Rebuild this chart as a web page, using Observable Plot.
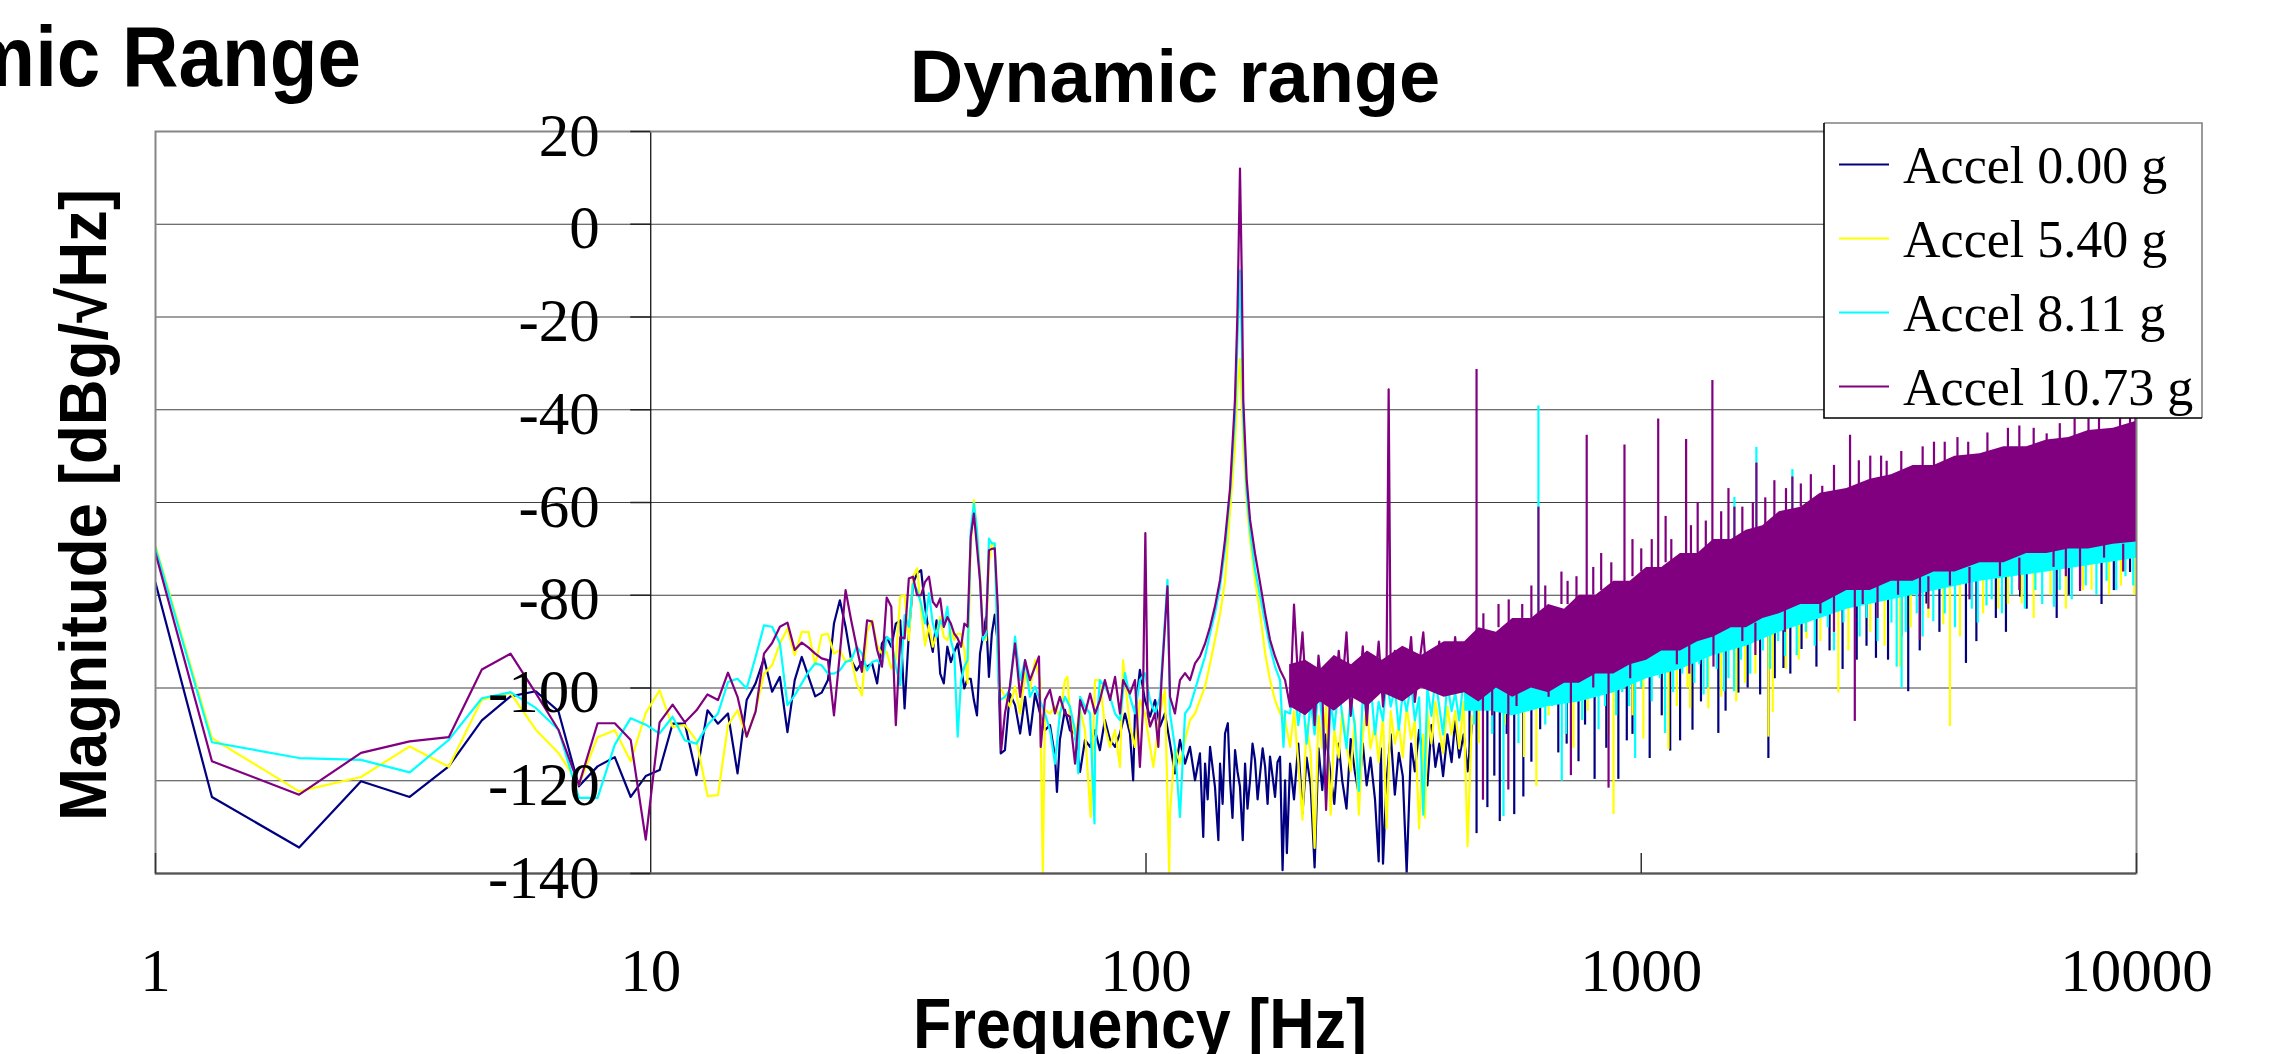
<!DOCTYPE html>
<html>
<head>
<meta charset="utf-8">
<script src="https://cdn.jsdelivr.net/npm/d3@7"></script>
<script src="https://cdn.jsdelivr.net/npm/@observablehq/plot@0.6"></script>
<style>
  html, body { margin: 0; padding: 0; background: #fff; }
  body { width: 2279px; height: 1054px; position: relative; overflow: hidden; }
  #chart svg, #overlay { position: absolute; left: 0; top: 0; }
</style>
</head>
<body>
<div id="chart"></div>
<script>
// ---------------- data ----------------
const seriesNames = ["Accel 0.00 g", "Accel 5.40 g", "Accel 8.11 g", "Accel 10.73 g"];
const seriesColors = ["#000080", "#ffff00", "#00ffff", "#800080"];

const xTicks = [1, 10, 100, 1000, 10000];
const xTickMarks = [1, 100, 1000, 10000];
const yTicks = [20, 0, -20, -40, -60, -80, -100, -120, -140];
const yAxisAt = 10;          // frequency where the magnitude axis crosses
const xDomain = [1, 10000];
const yDomain = [-140, 20];

// low-frequency bins (Hz)
const freqLow = [1, 1.30, 1.95, 2.60, 3.26, 3.91, 4.56, 5.21, 5.86, 6.51, 7.16, 7.81, 8.46, 9.11, 9.77,
  10.42, 11.07, 11.72, 12.37, 13.02, 13.67, 14.32, 14.97, 15.62, 16.28, 16.93, 17.58, 18.23, 18.88, 19.53,
  20.18, 20.83, 21.48, 22.13, 22.79, 23.44, 24.09, 24.74, 25.39, 26.04, 26.69, 27.34, 27.99, 28.65, 29.30,
  29.95, 30.60, 31.25, 31.90, 32.55, 33.20, 33.85, 34.50, 35.15, 35.80, 36.46, 37.11, 37.76, 38.41, 39.06,
  39.71, 40.36, 41.01, 41.66, 42.32, 42.97, 43.62, 44.27, 44.92, 45.57, 46.22, 46.87, 47.53, 48.18, 48.83];

const navyLow = [-77.3, -123.5, -134.4, -120.1, -123.5, -116.9, -107, -101.8, -100.7, -105, -121.2, -116.9, -114.9, -123.5, -119,
  -117.7, -107.7, -107.7, -118.8, -104.8, -107.7, -105.5, -118.4, -102.6, -99, -93.6, -100.8, -97.6, -109.5, -98.3,
  -93.3, -97.6, -101.8, -101, -98.3, -86.1, -81.1, -86.8, -94, -96.2, -94.4, -95.4, -94.7, -99, -90.4,
  -89, -91.1, -86.1, -85.4, -104.4, -88.3, -77.5, -75.3, -74.6, -82.5, -88.3, -92.2, -85.4, -96.9, -99,
  -91.1, -94.4, -92.2, -90.4, -95.4, -100.1, -98, -98, -102.6, -105.9, -92.6, -88.6, -84.7, -97.6, -88.3];
const yellowLow = [-69.4, -110.8, -122.3, -119.2, -112.6, -117, -102.5, -101.1, -109, -114, -120.9, -110.6, -109.1, -115.8, -105.4,
  -100.5, -108.4, -108, -111.3, -123.3, -123.1, -108, -104.8, -110.5, -105, -96.9, -95.1, -90.4, -87.2, -92.9,
  -87.9, -87.9, -95.1, -88.6, -88.3, -92.6, -91.8, -94.4, -93.6, -99, -101.6, -87.9, -85.4, -90.8, -92.6,
  -92.2, -95.8, -94, -80.3, -80, -89.7, -76, -74.2, -83.2, -90.8, -86.5, -91.1, -88.3, -84.7, -89,
  -89.7, -87.2, -89.7, -88.3, -88.3, -91.8, -99, -69.6, -59.5, -66, -75.3, -89, -89.7, -73.2, -68.8];
const cyanLow = [-69.8, -111.7, -115.1, -115.5, -118.2, -111.2, -102.2, -100.9, -104.3, -109, -123.7, -123.7, -112.2, -106.5, -107.9,
  -109.8, -106.2, -111.3, -112, -108, -105.5, -98.7, -98, -100.1, -93.3, -86.5, -86.8, -90.4, -103.7, -101.6,
  -99, -96.5, -94.7, -95.1, -96.9, -96.9, -96.2, -94.4, -94, -91.1, -92.6, -96.2, -94.4, -94, -95.1,
  -89, -89.7, -95.4, -99.4, -84.3, -86.8, -77.5, -78.9, -81.8, -86.1, -79.6, -86.1, -89, -85.4, -86.8,
  -82.5, -89.7, -92.6, -110.5, -98.3, -95.4, -94, -66, -60.2, -66, -76.8, -89.7, -88.6, -67.8, -68.8];
const purpleLow = [-70.9, -115.8, -123, -114, -111.5, -110.6, -96, -92.6, -101.1, -109, -120.9, -107.6, -107.6, -111.2, -132.7,
  -107.4, -103.6, -107.4, -104.8, -101.4, -102.6, -96.7, -101.9, -110.5, -105.1, -92.6, -90.3, -86.8, -85.9, -91.8,
  -90.2, -91.3, -92.6, -93.6, -94, -105.9, -92.6, -78.9, -85.4, -91.1, -96.5, -85.4, -85.7, -91.8, -95.4,
  -80.5, -82.5, -108, -89, -89.3, -76.4, -76, -80, -80, -77.1, -76, -81.4, -82.5, -80.7, -86.8,
  -84.7, -86.1, -88.3, -89.3, -91.1, -86.1, -86.8, -67.4, -62.4, -69.6, -76.8, -88.6, -87.2, -70.3, -70];

// 49 - 455 Hz: [frequency, dB]
const navyMid = [[49.5,-84.2],[50.2,-90.4],[50.9,-114.1],[51.9,-113.4],[53.1,-101.2],[54.4,-103.7],[55.7,-109.8],[57.0,-101.9],
  [58.3,-110.1],[59.7,-101.2],[61.1,-105.5],[62.5,-109.1],[64.0,-108],[65.5,-114.8],[66.1,-122.4],[67.0,-111.2],[68.6,-104.7],
  [70.2,-109.1],[71.9,-109.8],[73.6,-118.1],[75.3,-111.2],[77.1,-112.7],[78.9,-109.1],[80.7,-113.4],[82.6,-106.9],[84.6,-111.2],
  [86.6,-112.7],[88.6,-109.8],[90.7,-105.5],[92.8,-109.8],[94.2,-119.9],[95.0,-105.5],[97.2,-96.1],[99.5,-102.6],[101.9,-106.2],
  [104.3,-102.6],[106.7,-108.3],[109.2,-105.5],[111.8,-111.9],[114.4,-118.4],[117.1,-111.2],[119.9,-116.3],[122.7,-112.7],
  [125.6,-119.9],[128.5,-114.1],[130.5,-132.1],[131.6,-116.3],[133.2,-124],[134.7,-112.7],[137.8,-121.3],[140.0,-132.8],
  [141.1,-116.3],[142.8,-125],[144.4,-109.8],[146.3,-107.6],[147.8,-119.9],[149.5,-128],[151.3,-113.4],[153.0,-118],
  [154.8,-121.3],[156.8,-132.8],[158.5,-116.3],[160.3,-126],[162.2,-119.9],[164.1,-112],[166.0,-115.5],[168.0,-124],
  [170.0,-118.4],[172.0,-113],[174.0,-117],[176.0,-125],[178.0,-114.8],[180.1,-119],[182.2,-123.5],[184.3,-116],
  [186.5,-114.8],[188.7,-139.3],[190.9,-119.9],[192.5,-135.6],[195.4,-116.3],
  [199,-124],[203,-112],[207,-127],[211,-115],[215,-121],[219,-138.7],[223,-113],[227,-122],[231,-110],[236,-119],[240,-125],
  [245,-112],[249,-120],[254,-126],[259,-111],[264,-118],[269,-123],[274,-112],[279,-121],[284,-115],[290,-124],[295,-137.4],
  [298,-113],[301,-137.9],[306,-120],[312,-110],[318,-123],[324,-114],[330,-119],[336,-139.8],[343,-112],[349,-118],[356,-109],
  [363,-116],[370,-121],[377,-108],[384,-117],[391,-112],[398,-119],[406,-110],[414,-116],[421,-107],[429,-115],[438,-110],
  [446,-118],[455,-108]];
const yellowMid = [[49.5,-69.5],[50.3,-96.8],[50.7,-99.7],[51.9,-101.9],[53.1,-104],[54.4,-99.7],[55.7,-105.5],[57.0,-96.8],
  [58.3,-100.4],[59.7,-94],[61.1,-98.3],[61.9,-140],[62.5,-104.7],[64.0,-105.5],[65.5,-104],[67.0,-106.2],[68.6,-98.3],
  [69.4,-97.6],[70.2,-105.5],[71.9,-110.5],[73.6,-104.7],[75.3,-109.1],[77.3,-127.8],[78.9,-98.3],[80.7,-98.3],[82.6,-108.3],
  [84.6,-112.7],[86.6,-109.1],[88.6,-117],[89.9,-94],[90.7,-98.3],[92.8,-108.3],[95.0,-112.7],[97.2,-102.6],[99.5,-105.5],
  [101.9,-112.7],[103.5,-117],[106.7,-105.5],[109.2,-100.4],[111.4,-140],[111.8,-127],[114.4,-112.7],[117.1,-116.3],
  [119.9,-111.2],[122.7,-106.9],[125.6,-105.5],[128.5,-102.6],[131.6,-99.7],[134.7,-94.7],[137.8,-89.6],[141.1,-84],
  [144.4,-77],[147.8,-62],[151.2,-48],[153.0,-36],[154.8,-29],[156.1,-38],[157.2,-48],[159.7,-60],[162.2,-68],[166.0,-76.7],
  [170.0,-84],[174.0,-92.5],[178.0,-98.3],[182.2,-102.6],[186.5,-105.5],[190.9,-106.9],[195.4,-112.7],
  [199,-105],[203,-116],[207,-128.4],[211,-108],[215,-114],[219,-134.5],[223,-106],[227,-113],[231,-104],[236,-127.3],[240,-109],
  [245,-115],[249,-105],[254,-112],[259,-118],[264,-107],[269,-127.3],[274,-110],[279,-104],[284,-113],[290,-108],[295,-116],
  [301,-106],[306,-130.3],[312,-105],[318,-112],[324,-108],[330,-115],[336,-104],[343,-111],[349,-107],[356,-130.3],[363,-110],
  [366,-128],[370,-105],[377,-112],[384,-103],[391,-109],[398,-114],[406,-104],[414,-110],[421,-105],[429,-113],[438,-103],
  [446,-134.1],[455,-106]];
const cyanMid = [[49.5,-68.8],[50.3,-96.8],[50.7,-102.6],[51.9,-101.9],[53.1,-100.4],[54.4,-88.9],[55.7,-98.3],[57.0,-94],
  [58.3,-101.9],[59.7,-99.7],[61.1,-102.6],[62.5,-105.5],[64.0,-109.1],[65.5,-116.3],[67.0,-105.5],[68.6,-101.9],[70.2,-104],
  [71.9,-109.1],[73.0,-118.4],[73.6,-101.9],[75.3,-104],[77.1,-105.5],[78.7,-129.2],[78.9,-112.7],[80.7,-98.3],[82.6,-99.7],
  [84.6,-101.9],[86.6,-105.5],[88.6,-106.9],[90.7,-96.8],[92.8,-101.9],[95.0,-105.5],[97.2,-98.3],[99.5,-96.8],[101.9,-102.6],
  [104.3,-105.5],[106.7,-101.9],[110.5,-76.7],[111.8,-105.5],[114.4,-112.7],[117.1,-127.8],[119.9,-105.5],[122.7,-104],
  [125.6,-100.4],[128.5,-96.8],[131.6,-93.2],[134.7,-88.2],[137.8,-83.9],[141.1,-78.1],[144.4,-70],[147.8,-58],[151.2,-42],
  [153.0,-25],[154.8,-10],[156.1,-25],[157.2,-42],[159.7,-58],[162.2,-66],[166.0,-74.5],[170.0,-80.3],[174.0,-86],
  [178.0,-91.1],[182.2,-95.4],[186.5,-98.3],[189.5,-112.7],[190.9,-105],[195.4,-105.5],
  [199,-99],[203,-108],[207,-101],[211,-112],[215,-103],[219,-110],[223,-100],[227,-107],[231,-124.2],[236,-103],[240,-109],
  [245,-99],[249,-106],[254,-113],[259,-102],[264,-108],[269,-122.2],[274,-101],[279,-106],[284,-99],[290,-110],[295,-103],
  [301,-107],[306,-98],[312,-104],[318,-100],[324,-109],[330,-101],[336,-105],[343,-99],[349,-107],[356,-102],[363,-127.3],
  [370,-100],[377,-106],[384,-98],[391,-104],[398,-110],[406,-99],[414,-105],[421,-101],[429,-107],[438,-98],[446,-104],[455,-100]];
const purpleMid = [[49.5,-69.9],[50.2,-82.4],[51.0,-113.4],[51.9,-105.5],[53.1,-99.7],[54.4,-90.4],[55.7,-101.9],[57.0,-94],
  [58.3,-98.3],[59.7,-95.4],[60.8,-93.2],[61.3,-112.7],[62.5,-102.6],[64.0,-100.4],[65.5,-105.5],[67.0,-101.9],[68.6,-105.5],
  [70.2,-106.2],[71.9,-116.3],[73.6,-102.6],[75.3,-105.5],[77.1,-101.2],[78.9,-105.5],[80.7,-102.6],[82.6,-98.3],[84.6,-102.6],
  [86.6,-97.6],[88.6,-105.5],[89.9,-98.3],[92.8,-101.2],[95.0,-98.3],[97.2,-117],[98.5,-105.5],[99.7,-66.6],[100.8,-105.5],
  [101.9,-108.3],[104.3,-105.5],[105.9,-112.7],[107.5,-98.3],[110.5,-78.1],[111.8,-101.9],[114.4,-105.5],[117.1,-98.3],
  [119.9,-96.8],[122.7,-98.3],[125.6,-94.7],[128.5,-93.2],[131.6,-90.4],[134.7,-86.8],[137.8,-82.4],[141.1,-76.7],[144.4,-68],
  [147.8,-57],[151.2,-38],[153.0,-19],[154.8,12],[156.1,-11],[157.2,-38],[159.7,-55],[162.2,-63.7],[166.0,-71],[170.0,-77.4],
  [174.0,-83.9],[178.0,-89.6],[182.2,-93.2],[186.5,-96.1],[190.9,-98.3],[195.4,-104],
  [199,-82],[203,-99],[207,-88],[211,-103],[215,-95],[219,-108],[223,-93],[227,-101],[231,-126.3],[236,-97],[240,-104],
  [245,-92],[249,-100],[254,-88],[259,-106],[264,-96],[269,-102],[274,-91],[279,-108],[284,-95],[290,-99],[295,-90],
  [301,-104],[306,-96],[309,-35.6],[312,-97],[318,-92],[324,-102],[330,-94],[336,-99],[343,-89],[349,-103],[356,-95],
  [363,-88],[370,-100],[377,-93],[384,-98],[391,-90],[398,-101],[406,-92],[414,-97],[421,-89],[429,-99],[438,-91],[446,-96],[455,-89]];

// 440 Hz - 10 kHz dense noise: [frequency, lower edge dB, upper edge dB]
const navyBand = [[440,-102,-93],[550,-103,-89],[750,-100,-83],[1025,-95,-77],[1400,-90,-71],[1900,-85,-66],[2600,-80,-60],
  [3540,-78,-56],[4830,-74,-53],[6590,-72,-50],[10000,-69,-47]];
const yellowBand = [[440,-102,-93],[550,-103,-89],[750,-100,-83],[1025,-95,-77],[1400,-90,-71],[1900,-85,-66],[2600,-80,-60],
  [3540,-78,-56],[4830,-74,-53],[6590,-72,-50],[10000,-69,-47]];
const cyanBand = [[440,-105,-93],[500,-105,-90],[550,-106,-89],[650,-104,-86],[750,-103,-83],[880,-101,-80],[1025,-98,-77],
  [1200,-96,-74],[1400,-93,-71],[1630,-91,-69],[1900,-88,-66],[2300,-85,-62],[2600,-83,-60],[3540,-80,-56],[4830,-77,-53],
  [6590,-75,-50],[10000,-72,-47]];
const purpleBand = [[195,-104,-95],[210,-106,-94],[225,-103,-96],[240,-105,-93],[260,-102,-95],[280,-104,-92],[300,-101,-94],
  [330,-103,-91],[360,-100,-93],[400,-102,-90],[440,-101,-90],[470,-103,-87],[510,-100,-88],[550,-102,-85],[600,-100,-85],
  [650,-101,-82],[700,-99,-83],[750,-99,-80],[810,-97,-80],[880,-97,-77],[950,-95,-77],[1025,-94,-74],[1100,-92,-74],
  [1200,-92,-71],[1300,-90,-71],[1400,-89,-68],[1520,-87,-68],[1630,-87,-66],[1760,-85,-65],[1900,-84,-62],[2100,-82,-61],
  [2300,-82,-58],[2600,-79,-57],[2900,-79,-55],[3200,-77,-54],[3540,-77,-52],[3900,-75,-52],[4300,-75,-50],[4830,-73,-49.5],
  [5400,-73,-48],[6000,-71,-48],[6590,-71,-46.5],[7300,-70,-46],[8000,-70,-44.5],[8980,-69,-44],[10000,-68.5,-42.5]];

// single spikes: [frequency, root dB, tip dB]
const navySpikes = [[450,-101,-114],[465,-100,-131.4],[489,-100,-125.8],[505,-100,-119],[518,-100,-128.8],[535,-99,-110],
  [554,-99,-127.3],[578,-98,-123.5],[600,-98,-116],[625,-97,-109],[680,-96,-114],[707,-96,-112.1],[747,-95,-115.9],
  [770,-94,-108],[805,-94,-119.7],[850,-93,-113],[899,-92,-119.7],[935,-92,-111.4],[960,-91,-110],[1040,-90,-115.2],
  [1100,-89,-106],[1144,-88,-113.6],[1198,-88,-111.4],[1269,-87,-109.1],[1320,-86,-103],[1431,-85,-109.8],[1480,-85,-105],
  [1571,-84,-101.1],[1640,-83,-100],[1738,-82,-101.5],[1806,-82,-115.2],[1860,-81,-98],[1937,-80,-95.8],[2000,-80,-97],
  [2107,-79,-91.7],[2258,-79,-95.5],[2400,-78,-92],[2550,-77,-96],[2723,-77,-94],[2850,-76,-91],[2978,-76,-93.6],
  [3150,-75,-94],[3350,-74,-89],[3460,-74,-100.8],[3650,-73,-92],[3766,-73,-81.9],[4000,-72,-88],[4525,-71,-94.7],
  [4750,-71,-90],[5200,-70,-85],[5450,-70,-88],[5820,-69,-80.4],[6000,-69,-83],[6900,-68,-85],[7300,-68,-80],
  [7691,-67,-78.1],[8500,-67,-82],[9000,-66,-79],[9704,-66,-75.1]];
const yellowSpikes = [[470,-101,-112],[530,-100,-108],[580,-98,-115],[614,-97,-121.2],[650,-97,-106],[730,-95,-113],
  [780,-94,-105],[860,-93,-110],[879,-92,-127.3],[960,-91,-106],[1010,-90,-111],[1135,-88,-113.3],[1180,-88,-104],
  [1240,-87,-100],[1255,-87,-104.5],[1366,-86,-104.5],[1450,-85,-102],[1555,-84,-103],[1620,-83,-99],[1700,-82,-97],
  [1806,-82,-110.6],[1843,-81,-105.3],[1960,-80,-96],[2080,-79,-94],[2156,-79,-89.4],[2300,-78,-90],[2500,-77,-101.1],
  [2620,-77,-92],[2900,-76,-88],[3100,-75,-91],[3330,-74,-95.5],[3500,-74,-87],[3800,-73,-85],[4072,-72,-86.4],
  [4200,-72,-108.3],[4400,-72,-89],[4900,-71,-84],[5258,-70,-83],[5500,-70,-82],[5864,-69,-81.9],[6200,-69,-85],
  [6700,-68,-80],[7200,-68,-83],[7800,-67,-79],[8114,-67,-78.9],[8800,-67,-80],[9300,-66,-78],[9900,-66,-80]];
const cyanSpikes = [[460,-101,-108],[485,-100,-104],[500,-100,-110],[527,-100,-127.7],[545,-99,-106],[565,-98,-112],
  [590,-98,-103],[640,-97,-108],[660,-97,-104],[691,-96,-120.1],[705,-96,-110],[735,-95,-103],[760,-95,-107],[795,-94,-102],
  [820,-94,-109],[845,-93,-104],[890,-93,-106],[915,-92,-101],[945,-91,-104],[972,-91,-115.2],[1000,-90,-100],
  [1050,-90,-103],[1090,-89,-98],[1117,-88,-109.8],[1160,-88,-101],[1210,-88,-97],[1280,-87,-99],[1310,-86,-95],
  [1336,-86,-101.5],[1360,-86,-100],[1420,-85,-96],[1470,-84,-100.8],[1500,-84,-98],[1540,-83,-100.8],[1590,-83,-94],
  [1660,-83,-97],[1760,-82,-92],[1820,-81,-96],[1890,-80,-90],[1951,-80,-93.2],[2060,-79,-93],[2150,-79,-88],[2240,-78,-91],
  [2380,-78,-87],[2450,-77,-92],[2560,-77,-86],[2760,-76,-89],[2850,-76,-85],[3000,-75,-90],[3200,-75,-86],[3279,-74,-95.5],
  [3355,-74,-100],[3420,-74,-88],[3600,-74,-84],[3700,-73,-89],[3888,-73,-85.7],[4100,-72,-84],[4300,-72,-87],[4650,-71,-83],
  [4780,-71,-86],[4979,-71,-82.3],[5100,-70,-81],[5350,-70,-84],[5600,-69,-80],[5950,-69,-83],[6250,-69,-79],[6450,-68,-82],
  [6811,-68,-82.6],[7000,-68,-79],[7400,-68,-81],[7900,-67,-78],[8300,-67,-80],[8700,-67,-77],[9100,-66,-79],[9500,-66,-76],
  [9850,-66,-78],
  [620,-89,-39.2],[1542,-70,-58.9],[1708,-68,-48.1],[2019,-64,-52.9]];
const purpleSpikes = [[479,-100,-124.2],[500,-100,-106],[539,-99,-122],[560,-99,-104],[650,-97,-102],[721,-95,-118.9],
  [800,-94,-100],[859,-93,-121.6],[950,-91,-98],[1180,-88,-95],[1250,-90,-97],[1399,-85,-95.5],[1600,-83,-90],[1700,-86,-93],
  [1950,-80,-88],[2300,-78,-84],[2450,-80,-88],[2699,-76,-107.2],[2800,-76,-82],[3000,-78,-85],[3300,-74,-80],[3654,-73,-89.8],
  [3800,-76,-83],[4200,-72,-78],[4600,-74,-81],[5300,-70,-76],[5800,-72,-79],[6800,-68,-74],[7200,-70,-76],[7691,-68,-79.2],
  [8600,-67,-72],[9400,-69,-75],
  [465,-89,-31.3],[480,-88,-84],[515,-87,-82],[540,-86,-81],[575,-85,-82],[600,-85,-78],[620,-85,-61],[640,-83,-78],
  [690,-82,-75],[710,-82,-77],[740,-81,-76],[776,-82,-45.5],[800,-80,-74],[830,-79,-71],[870,-78,-73],[925,-79,-47.6],
  [960,-76,-68],[1000,-75,-70],[1050,-75,-68],[1082,-76,-42],[1120,-73,-63],[1150,-73,-68],[1232,-73,-46.4],[1260,-71,-65],
  [1300,-71,-60],[1350,-70,-64],[1392,-70,-33.7],[1450,-69,-62],[1500,-68,-57],[1542,-68,-61],[1600,-67,-61],[1680,-67,-60],
  [1708,-67,-51.5],[1780,-65,-59],[1857,-65,-55.3],[1960,-63,-57],[2019,-64,-54.5],[2100,-61,-56],[2200,-60,-54],
  [2320,-61,-56.5],[2450,-58,-52],[2640,-58,-45.5],[2750,-57,-51],[2900,-56,-50],[3050,-56,-50],[3130,-56,-51.1],
  [3350,-55,-49],[3700,-53,-48],[3900,-53,-47],[4100,-52,-47],[4350,-51,-46],[4573,-51,-47],[5000,-50,-45],[5500,-49,-44],
  [5800,-49,-43.5],[6200,-48,-44],[6586,-49,-45.2],[7000,-47,-43],[7500,-47,-42],[8000,-46,-42],[8400,-46,-41.5],
  [9265,-46,-41.6],[9704,-45,-40.9],[9950,-44,-39.5]];

// ---------------- chart ----------------
const lows = [navyLow, yellowLow, cyanLow, purpleLow];
const mids = [navyMid, yellowMid, cyanMid, purpleMid];
const bands = [navyBand, yellowBand, cyanBand, purpleBand];
const spikes = [navySpikes, yellowSpikes, cyanSpikes, purpleSpikes];

const W = 2279, H = 1054;
const marks = [
  Plot.ruleY(yTicks, {stroke: "#404040", strokeWidth: 1.2}),
  Plot.ruleX([yAxisAt], {stroke: "#000", strokeWidth: 1.2})
];
seriesNames.forEach((name, i) => {
  const color = seriesColors[i];
  const line = freqLow.map((f, j) => ({f, v: lows[i][j]})).concat(mids[i].map(([f, v]) => ({f, v})));
  marks.push(Plot.areaY(bands[i], {x: d => d[0], y1: d => d[1], y2: d => d[2], fill: color, clip: true}));
  marks.push(Plot.ruleX(spikes[i], {x: d => d[0], y1: d => d[1], y2: d => d[2], stroke: color, strokeWidth: 2.2, clip: true}));
  marks.push(Plot.line(line, {x: "f", y: "v", stroke: color, strokeWidth: 2.2, clip: true}));
});
marks.push(
  Plot.frame({stroke: "#868686", strokeWidth: 2}),
  Plot.ruleY([yDomain[0]], {stroke: "#555", strokeWidth: 2}),
  Plot.ruleY(yTicks, {y: d => d, x1: () => yAxisAt, x2: () => yAxisAt, insetLeft: -20, stroke: "#222", strokeWidth: 1.5}),
  Plot.ruleX(xTickMarks, {x: d => d, y1: () => yDomain[0], y2: () => yDomain[0], insetTop: -20, stroke: "#333", strokeWidth: 1.5}),
  Plot.text(yTicks, {x: () => yAxisAt, y: d => d, text: d => String(d), textAnchor: "end", lineAnchor: "bottom",
    dx: -51, dy: 24, fontSize: 61, fill: "#000"}),
  Plot.text(xTicks, {x: d => d, frameAnchor: "bottom", text: d => String(d), lineAnchor: "bottom",
    dy: 117, fontSize: 61, fill: "#000"})
);

const chart = Plot.plot({
  width: W, height: H,
  marginLeft: 155, marginRight: 143, marginTop: 131, marginBottom: 181,
  x: {type: "log", domain: xDomain, axis: null},
  y: {domain: yDomain, axis: null},
  style: {fontFamily: "'Liberation Serif', 'Times New Roman', serif", background: "#fff", overflow: "visible"},
  marks
});
document.getElementById("chart").append(chart);

// ---------------- titles, axis titles, legend ----------------
const sans = "'Liberation Sans', Arial, Helvetica, sans-serif";
const ov = d3.select("body").append("svg").attr("id", "overlay").attr("width", W).attr("height", H);

ov.append("text").attr("x", 361).attr("y", 86).attr("text-anchor", "end")
  .attr("transform", "translate(361,0) scale(0.92,1) translate(-361,0)")
  .attr("font-family", sans).attr("font-weight", 700).attr("font-size", 85).text("Dynamic Range");
ov.append("text").attr("x", 1175).attr("y", 102).attr("text-anchor", "middle")
  .attr("font-family", sans).attr("font-weight", 700).attr("font-size", 74).text("Dynamic range");
ov.append("text").attr("x", 1140).attr("y", 1048).attr("text-anchor", "middle")
  .attr("transform", "translate(1140,0) scale(0.885,1) translate(-1140,0)")
  .attr("font-family", sans).attr("font-weight", 700).attr("font-size", 71).text("Frequency [Hz]");
ov.append("text").attr("transform", "translate(106,505) rotate(-90) scale(0.95,1)").attr("text-anchor", "middle")
  .attr("font-family", sans).attr("font-weight", 700).attr("font-size", 67).text("Magnitude [dBg/\u221AHz]");

const lg = ov.append("g");
lg.append("rect").attr("x", 1824).attr("y", 123).attr("width", 378).attr("height", 295).attr("fill", "#fff");
lg.append("path").attr("d", "M1824,123H2202V418").attr("fill", "none").attr("stroke", "#808080").attr("stroke-width", 1.6);
lg.append("path").attr("d", "M1824,123V418H2202").attr("fill", "none").attr("stroke", "#000").attr("stroke-width", 1.6);
seriesNames.forEach((name, i) => {
  const cy = 164.5 + i * 74;
  lg.append("line").attr("x1", 1839).attr("x2", 1889).attr("y1", cy).attr("y2", cy)
    .attr("stroke", seriesColors[i]).attr("stroke-width", 2);
  lg.append("text").attr("x", 1903).attr("y", cy + 18.5)
    .attr("font-family", "'Liberation Serif', 'Times New Roman', serif").attr("font-size", 52).text(name);
});
</script>
</body>
</html>
